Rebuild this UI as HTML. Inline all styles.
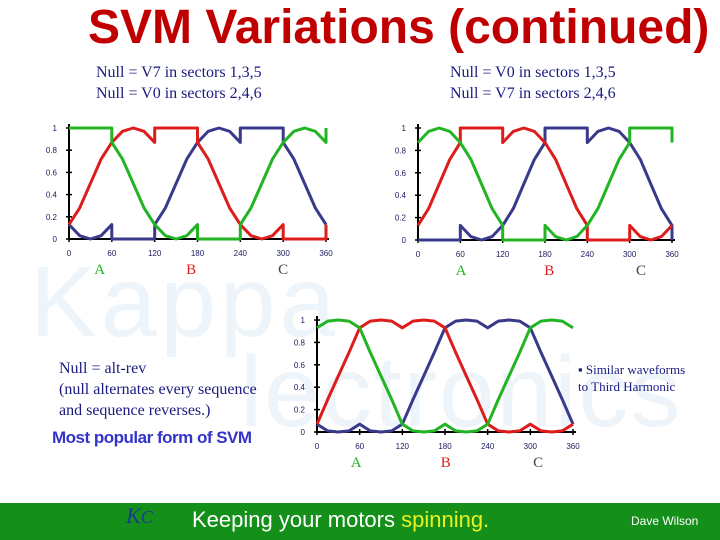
<!DOCTYPE html>
<html><head><meta charset="utf-8"><style>
body{margin:0;width:720px;height:540px;overflow:hidden;background:#fff;position:relative;font-family:"Liberation Sans",sans-serif}
.abs{position:absolute;white-space:nowrap}
.serif{font-family:"Liberation Serif",serif}
</style></head><body>
<div class="abs" style="left:30px;top:245px;font-size:100px;color:#edf4fa;letter-spacing:4px">Kappa</div>
<div class="abs" style="left:240px;top:335px;font-size:100px;color:#edf4fa;letter-spacing:2px">lectronics</div>
<div class="abs" style="left:88px;top:0px;font-size:48px;font-weight:bold;color:#c00000">SVM Variations (continued)</div>
<div class="abs serif" style="left:96px;top:62px;font-size:16px;line-height:21px;color:#1a1a80">Null = V7 in sectors 1,3,5<br>Null = V0 in sectors 2,4,6</div>
<div class="abs serif" style="left:450px;top:62px;font-size:16px;line-height:21px;color:#1a1a80">Null = V0 in sectors 1,3,5<br>Null = V7 in sectors 2,4,6</div>
<div class="abs serif" style="left:59px;top:358px;font-size:16px;line-height:21px;color:#1a1a80">Null = alt-rev<br>(null alternates every sequence<br>and sequence reverses.)</div>
<div class="abs" style="left:52px;top:428px;font-size:17px;font-weight:bold;color:#3333cc;letter-spacing:-0.5px">Most popular form of SVM</div>
<div class="abs serif" style="left:578px;top:361px;font-size:13px;line-height:17px;color:#1a1a80">▪ Similar waveforms<br>to Third Harmonic</div>
<div class="abs" style="left:0;top:503px;width:720px;height:37px;background:#14901a"></div>
<div class="abs serif" style="left:126px;top:503px;font-size:22px;font-style:italic;color:#1a3a90">K<span style="font-size:18px">C</span></div>
<div class="abs" style="left:192px;top:507px;font-size:22px;color:#fff">Keeping your motors <span style="color:#e8f020">spinning.</span></div>
<div class="abs" style="left:631px;top:514px;font-size:12px;color:#fff">Dave Wilson</div>
<svg id="svg" width="720" height="540" style="position:absolute;left:0;top:0"></svg>
<script>
const degs=[0,15,30,45,60,60,75,90,105,120,120,135,150,165,180,180,195,210,225,240,240,255,270,285,300,300,315,330,345,360,360];
const yTicks=[0,0.2,0.4,0.6,0.8,1];
const yTickLabels=["0","0.2","0.4","0.6","0.8","1"];
const xTicks=[0,60,120,180,240,300,360];
const phaseLabels=["A","B","C"];
const phaseDeg1=[43,171,300];
const phaseDeg2=[61,186,316];
const phaseDeg3=[55,181,311];
const c1Green=[1,1,1,1,1,.87,.72,.5,.28,.13,.13,.03,0,.03,.13,0,0,0,0,0,.13,.28,.5,.72,.87,.87,.97,1,.97,.87,1];
const c1Red=[.13,.28,.5,.72,.87,.87,.97,1,.97,.87,1,1,1,1,1,.87,.72,.5,.28,.13,.13,.03,0,.03,.13,0,0,0,0,0,.13];
const c1Blue=[.13,.03,0,.03,.13,0,0,0,0,0,.13,.28,.5,.72,.87,.87,.97,1,.97,.87,1,1,1,1,1,.87,.72,.5,.28,.13,.13];
const c2Green=[.87,.97,1,.97,.87,.87,.72,.5,.28,.13,0,0,0,0,0,.13,.03,0,.03,.13,.13,.28,.5,.72,.87,1,1,1,1,1,.87];
const c2Red=[.13,.28,.5,.72,.87,1,1,1,1,1,.87,.97,1,.97,.87,.87,.72,.5,.28,.13,0,0,0,0,0,.13,.03,0,.03,.13,.13];
const c2Blue=[0,0,0,0,0,.13,.03,0,.03,.13,.13,.28,.5,.72,.87,1,1,1,1,1,.87,.97,1,.97,.87,.87,.72,.5,.28,.13,0];
const c3Green=[.93,.99,1,.99,.93,.93,.71,.5,.29,.07,.07,.01,0,.01,.07,.07,.01,0,.01,.07,.07,.29,.5,.71,.93,.93,.99,1,.99,.93,.93];
const c3Red=[.07,.29,.5,.71,.93,.93,.99,1,.99,.93,.93,.99,1,.99,.93,.93,.71,.5,.29,.07,.07,.01,0,.01,.07,.07,.01,0,.01,.07,.07];
const c3Blue=[.07,.01,0,.01,.07,.07,.01,0,.01,.07,.07,.29,.5,.71,.93,.93,.99,1,.99,.93,.93,.99,1,.99,.93,.93,.71,.5,.29,.07,.07];
const COL={g:"#22b422",r:"#dd1c1c",b:"#3a3a8c"};
const svg=document.getElementById('svg');
const NS="http://www.w3.org/2000/svg";
function mk(t,a){const e=document.createElementNS(NS,t);for(const k in a)e.setAttribute(k,a[k]);svg.appendChild(e);return e;}
function chart(id,x0,x1,y0,y1,series,phaseDeg){
  const sx=d=>x0+(x1-x0)*d/360, sy=v=>y0-(y0-y1)*v;
  const ax=mk('path',{d:`M${x0} ${y1-4}V${y0}H${x1+3}`,stroke:'#000','stroke-width':2,fill:'none'});
  
  
  yTicks.forEach((v,i)=>{
    const tk=mk('line',{x1:x0-3,x2:x0+3,y1:sy(v),y2:sy(v),stroke:'#000','stroke-width':1.5});
    
    
    const t=mk('text',{x:x0-12,y:sy(v)+3,'text-anchor':'end','font-size':8,fill:'#1a1a60','font-family':'Liberation Sans, sans-serif'});
    t.textContent=yTickLabels[i];
    
    
  });
  xTicks.forEach(d=>{
    const tk=mk('line',{x1:sx(d),x2:sx(d),y1:y0-3,y2:y0+3,stroke:'#000','stroke-width':1.5});
    
    
    const t=mk('text',{x:sx(d),y:y0+17,'text-anchor':'middle','font-size':8,fill:'#1a1a60','font-family':'Liberation Sans, sans-serif'});
    t.textContent=d;
    
    
  });
  const pc=[COL.g,COL.r,"#444"];
  phaseLabels.forEach((L,i)=>{
    const t=mk('text',{x:sx(phaseDeg[i]),y:y0+35,'text-anchor':'middle','font-size':15,fill:pc[i],'font-family':'Liberation Serif, serif'});
    t.textContent=L;
    
    
  });
  series.forEach(([name,vals,c])=>{
    const d=vals.map((v,i)=>(i?'L':'M')+sx(degs[i]).toFixed(1)+' '+sy(v).toFixed(1)).join('');
    const p=mk('path',{d,stroke:c,'stroke-width':3,fill:'none','stroke-linejoin':'round'});
    
    
  });
}
chart('chart-left',69,326,239,128,[['phase-c-blue',c1Blue,COL.b],['phase-b-red',c1Red,COL.r],['phase-a-green',c1Green,COL.g]],phaseDeg1);
chart('chart-right',418,672,240,128,[['phase-c-blue',c2Blue,COL.b],['phase-b-red',c2Red,COL.r],['phase-a-green',c2Green,COL.g]],phaseDeg2);
chart('chart-bottom',317,573,432,320,[['phase-c-blue',c3Blue,COL.b],['phase-b-red',c3Red,COL.r],['phase-a-green',c3Green,COL.g]],phaseDeg3);
</script>
</body></html>
